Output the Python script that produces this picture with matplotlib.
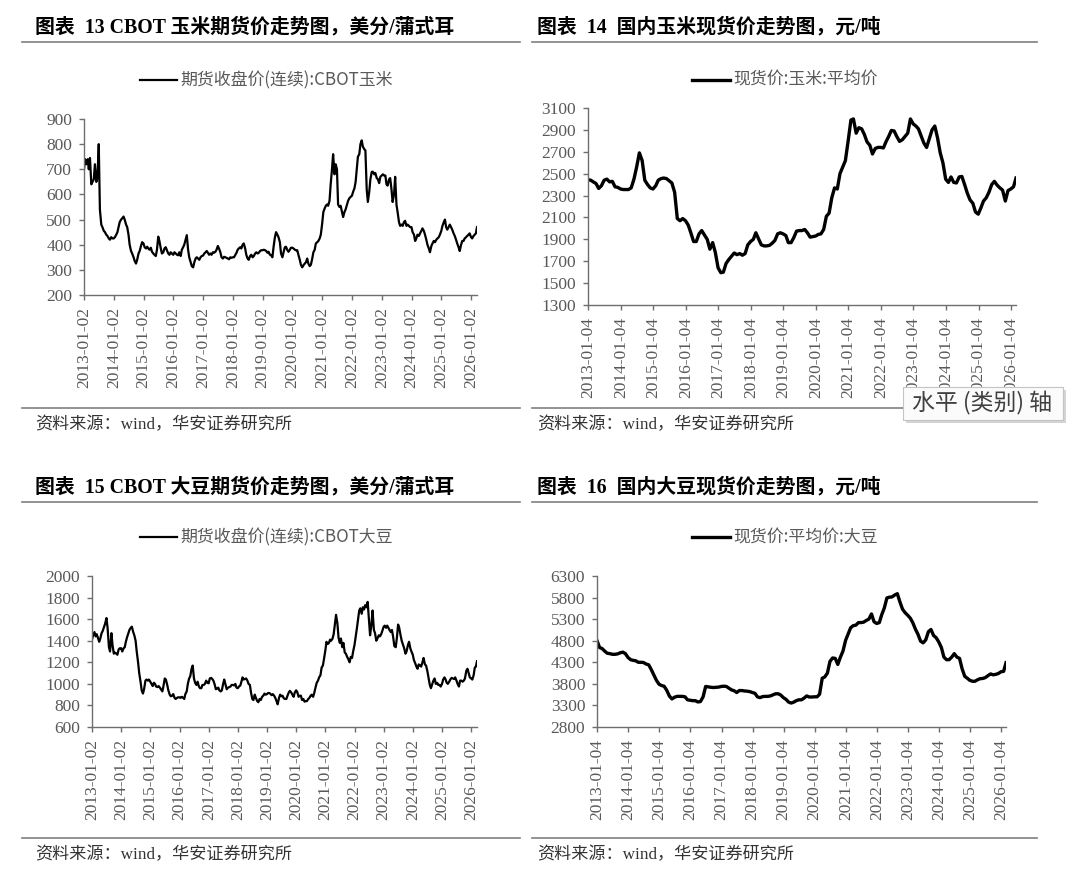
# %%
import matplotlib
matplotlib.use("Agg")
import matplotlib.pyplot as plt
import pandas as pd
from matplotlib.lines import Line2D
from matplotlib.patches import Rectangle

plt.rcParams["font.family"] = ["Liberation Serif", "Noto Sans CJK SC"]

W, H = 1080, 886
CJK_SANS = ["Noto Sans CJK SC", "DejaVu Sans"]

# %%
## 数据：期货为半月度，现货为月度
corn_fut = [
    700, 740, 720, 740, 700, 745, 640, 650, 660, 720, 650, 665, 800, 540, 480, 470, 455, 450, 440, 435, 425, 420, 430, 425,  # 2013
    425, 430, 440, 450, 470, 490, 500, 505, 512, 500, 480, 470, 440, 400, 375, 365, 350, 335, 325, 340, 365, 375, 395, 410,  # 2014
    405, 390, 385, 392, 385, 380, 388, 372, 365, 360, 355, 380, 432, 415, 385, 365, 370, 385, 390, 378, 365, 360, 370, 365,  # 2015
    360, 370, 365, 360, 358, 370, 355, 380, 390, 400, 420, 438, 380, 350, 330, 315, 310, 330, 345, 350, 345, 340, 350, 355,  # 2016
    357, 365, 370, 375, 368, 360, 365, 360, 370, 368, 372, 380, 395, 385, 370, 350, 345, 352, 350, 348, 345, 342, 350, 348,  # 2017
    350, 350, 360, 368, 380, 385, 390, 385, 400, 405, 385, 360, 345, 340, 355, 360, 350, 355, 365, 370, 365, 368, 375, 378,  # 2018
    378, 380, 378, 375, 368, 372, 360, 358, 350, 390, 430, 450, 440, 430, 410, 365, 350, 370, 390, 392, 378, 372, 380, 388,  # 2019
    388, 385, 380, 378, 378, 360, 340, 320, 310, 318, 325, 330, 345, 325, 315, 320, 345, 370, 380, 405, 410, 415, 425, 440,  # 2020
    485, 530, 545, 555, 560, 555, 575, 640, 700, 760, 680, 720, 700, 560, 550, 555, 530, 510, 530, 540, 560, 575, 585, 590,  # 2021
    595, 610, 625, 650, 700, 750, 760, 800, 815, 790, 780, 775, 620, 570, 610, 660, 690, 690, 680, 685, 665, 660, 645, 670,  # 2022
    675, 680, 675, 675, 640, 635, 660, 665, 620, 570, 600, 670, 560, 530, 490, 475, 480, 475, 490, 495, 475, 480, 475, 470,  # 2023
    470, 450, 440, 415, 425, 440, 435, 445, 455, 465, 455, 440, 420, 400, 385, 370, 395, 405, 415, 410, 420, 425, 430, 440,  # 2024
    455, 475, 490, 500, 470, 460, 470, 480, 470, 460, 445, 435, 420, 405, 390, 375, 400, 415, 415, 425, 430, 435, 440, 445,  # 2025
    430, 425, 435, 440, 445, 470,  # 2026
]

soy_fut = [
    1410, 1450, 1480, 1440, 1460, 1430, 1390, 1420, 1470, 1490, 1530, 1560, 1610, 1520, 1340, 1300, 1470, 1360, 1280, 1290, 1280, 1270, 1320, 1330,  # 2013
    1330, 1300, 1330, 1340, 1390, 1430, 1470, 1500, 1520, 1530, 1480, 1450, 1400, 1300, 1200, 1100, 1020, 940, 910, 950, 1030, 1040, 1030, 1040,  # 2014
    1020, 1000, 980, 1010, 1000, 975, 970, 980, 965, 950, 930, 980, 1050, 1040, 990, 940, 900, 885, 890, 905, 870, 860, 870, 875,  # 2015
    875, 870, 880, 870, 860, 905, 930, 1000, 1050, 1070, 1140, 1170, 1050, 1010, 990, 1020, 975, 960, 960, 990, 990, 1000, 1030, 1010,  # 2016
    1005, 1050, 1055, 1045, 1030, 1000, 950, 955, 965, 940, 930, 940, 1000, 1040, 990, 950, 965, 970, 975, 990, 990, 985, 1000, 965,  # 2017
    960, 975, 985, 1020, 1060, 1040, 1045, 1050, 1030, 1000, 990, 920, 860, 850, 900, 870, 840, 830, 860, 850, 880, 890, 910, 900,  # 2018
    905, 915, 915, 905, 895, 905, 890, 870, 840, 810, 870, 900, 885, 890, 865, 860, 860, 890, 920, 935, 920, 900, 880, 920,  # 2019
    940, 925, 880, 890, 890, 850, 860, 835, 840, 840, 860, 870, 890, 900, 880, 915, 970, 1010, 1030, 1060, 1080, 1150, 1170, 1230,  # 2020
    1310, 1390, 1370, 1380, 1410, 1400, 1420, 1460, 1560, 1640, 1560, 1430, 1380, 1420, 1340, 1380, 1290, 1280, 1250, 1230, 1200, 1250, 1240, 1300,  # 2021
    1360, 1430, 1520, 1600, 1680, 1700, 1650, 1710, 1690, 1730, 1710, 1760, 1600, 1450, 1550, 1680, 1500, 1470, 1400, 1420, 1450, 1440, 1460, 1490,  # 2022
    1530, 1540, 1520, 1540, 1520, 1500, 1480, 1500, 1430, 1350, 1340, 1420, 1550, 1520, 1450, 1400, 1360, 1330, 1280, 1300, 1360, 1390, 1330, 1300,  # 2023
    1270, 1220, 1190, 1160, 1140, 1180, 1170, 1160, 1200, 1240, 1180, 1170, 1120, 1060, 990, 960, 1000, 1030, 1050, 1000, 1010, 990, 990, 975,  # 2024
    1000, 1040, 1060, 1040, 1010, 1000, 1020, 1040, 1055, 1050, 1045, 1060, 1030, 1000, 975, 1030, 1030, 1020, 1030, 1050, 1120, 1140, 1100, 1060,  # 2025
    1050, 1040, 1080, 1150, 1160, 1210,  # 2026
]

corn_spot = [
    2445, 2440, 2425, 2410, 2365, 2390, 2440, 2450, 2425, 2430, 2380, 2375,  # 2013
    2360, 2355, 2355, 2355, 2370, 2450, 2560, 2690, 2620, 2440, 2400, 2370,  # 2014
    2360, 2390, 2440, 2455, 2460, 2455, 2435, 2415, 2330, 2090, 2070, 2090,  # 2015
    2070, 2030, 1960, 1880, 1880, 1950, 1980, 1940, 1900, 1810, 1870, 1780,  # 2016
    1640, 1595, 1600, 1680, 1715, 1745, 1775, 1760, 1770, 1755, 1770, 1850,  # 2017
    1880, 1900, 1960, 1905, 1850, 1840, 1840, 1845, 1865, 1890, 1950, 1960,  # 2018
    1950, 1935, 1870, 1870, 1915, 1975, 1980, 1980, 1990, 1960, 1920, 1925,  # 2019
    1930, 1945, 1950, 1990, 2110, 2140, 2280, 2370, 2360, 2500, 2560, 2620,  # 2020
    2800, 2990, 3000, 2870, 2920, 2910, 2860, 2790, 2760, 2680, 2730, 2740,  # 2021
    2740, 2735, 2790, 2840, 2895, 2890, 2840, 2795, 2810, 2840, 2870, 3000,  # 2022
    2955, 2935, 2910, 2845, 2780, 2740, 2820, 2900, 2935, 2830, 2690, 2600,  # 2023
    2450, 2420, 2470, 2420, 2415, 2470, 2475, 2400, 2320, 2260, 2230, 2150,  # 2024
    2130, 2190, 2250, 2280, 2330, 2400, 2430, 2395, 2370, 2350, 2250, 2345,  # 2025
    2360, 2380, 2460,  # 2026
]

soy_spot = [
    4800, 4640, 4620, 4560, 4510, 4500, 4485, 4485, 4495, 4520, 4535, 4500,  # 2013
    4410, 4360, 4345, 4335, 4300, 4300, 4295, 4260, 4240, 4130, 4000, 3880,  # 2014
    3790, 3760, 3745, 3650, 3520, 3450, 3490, 3510, 3510, 3510, 3500, 3430,  # 2015
    3420, 3410, 3410, 3380, 3390, 3500, 3740, 3730, 3720, 3715, 3720, 3725,  # 2016
    3740, 3745, 3740, 3700, 3660, 3640, 3600, 3645, 3645, 3635, 3630, 3620,  # 2017
    3600, 3580, 3500, 3480, 3505, 3510, 3510, 3520, 3545, 3570, 3570, 3540,  # 2018
    3480, 3440, 3380, 3355, 3375, 3410, 3430, 3430, 3470, 3520, 3495, 3495,  # 2019
    3500, 3500, 3560, 3930, 3960, 4050, 4320, 4400, 4390, 4250, 4420, 4560,  # 2020
    4810, 4960, 5100, 5150, 5160, 5220, 5220, 5230, 5270, 5300, 5420, 5240,  # 2021
    5200, 5220, 5400, 5560, 5790, 5810, 5815, 5860, 5890, 5700, 5530, 5450,  # 2022
    5390, 5320, 5220, 5070, 4950, 4790, 4750, 4820, 5010, 5060, 4920, 4870,  # 2023
    4770, 4640, 4420, 4360, 4360, 4420, 4500, 4420, 4390, 4150, 3975, 3930,  # 2024
    3880, 3860, 3860, 3895, 3920, 3925, 3945, 3990, 4030, 4010, 4020, 4040,  # 2025
    4080, 4090, 4290,  # 2026
]

fut_dates = pd.date_range("2013-01-01", periods=len(corn_fut), freq="SMS")
spot_dates = pd.date_range("2013-01-01", periods=len(corn_spot), freq="MS")
fut_ticks = pd.to_datetime([f"{y}-01-02" for y in range(2013, 2027)])
spot_ticks = pd.to_datetime([f"{y}-01-04" for y in range(2013, 2027)])

titles = [
    "图表  13 CBOT 玉米期货价走势图，美分/蒲式耳",
    "图表  14  国内玉米现货价走势图，元/吨",
    "图表  15 CBOT 大豆期货价走势图，美分/蒲式耳",
    "图表  16  国内大豆现货价走势图，元/吨",
]
labels = [
    "期货收盘价(连续):CBOT玉米",
    "现货价:玉米:平均价",
    "期货收盘价(连续):CBOT大豆",
    "现货价:平均价:大豆",
]
source = "资料来源：wind，华安证券研究所"


# %%
def fx(x):
    return x / W


def fy(y):
    return 1 - y / H


def hline(x0, x1, y, **kw):
    fig.add_artist(Line2D([fx(x0), fx(x1)], [fy(y), fy(y)], **kw))


panels = [
    # dates, values, ticks, y range, step, axes box (l, t, r, b), line width, column, row
    (fut_dates, corn_fut, fut_ticks, (200, 900), 100, (84, 119, 477, 295), 1.6, 0, 0),
    (spot_dates, corn_spot, spot_ticks, (1300, 3100), 200, (588, 108, 1016, 305), 2.4, 1, 0),
    (fut_dates, soy_fut, fut_ticks, (600, 2000), 200, (92, 576, 477, 727), 1.6, 0, 1),
    (spot_dates, soy_spot, spot_ticks, (2800, 6300), 500, (597, 576, 1006, 727), 2.4, 1, 1),
]

fig = plt.figure(figsize=(W / 100, H / 100), dpi=100)

for i, (dates, vals, ticks, (y0, y1), step, (l, t, r, b), lw, col, row) in enumerate(panels):
    ax = fig.add_axes([fx(l), fy(b), fx(r - l), (b - t) / H])
    ax.plot(dates, vals, color="black", lw=lw, solid_joinstyle="round")
    ax.set_xlim(dates[0], dates[-1])
    ax.set_ylim(y0, y1)
    ax.set_yticks(range(y0, y1 + 1, step))
    ax.set_xticks(ticks)
    ax.set_xticklabels([d.strftime("%Y-%m-%d") for d in ticks], rotation=90)
    for s in ["top", "right"]:
        ax.spines[s].set_visible(False)
    for s in ["left", "bottom"]:
        ax.spines[s].set_color("#6e6e6e")
        ax.spines[s].set_linewidth(1.0)
    ax.tick_params(direction="out", length=3.5, width=1.0, color="#6e6e6e",
                   labelcolor="#595959", labelsize=12.5, pad=5)

    bx = 35 if col == 0 else 537
    dy = 0 if row == 0 else 460
    rx0, rx1 = (22, 520) if col == 0 else (532, 1037)

    # 标题、分隔线
    fig.text(fx(bx), fy(27 + dy), titles[i], fontsize=14.3, weight="bold",
             va="center", ha="left")
    hline(rx0, rx1, 42 + dy, color="#7f7f7f", lw=1.2)

    # 图例
    ly = 80 + dy if row == 0 else 537
    lx0, lx1, tx = (140, 177, 180) if col == 0 else (692, 730, 733)
    hline(lx0, lx1, ly, color="black", lw=lw)
    fig.text(fx(tx), fy(ly), labels[i], family=CJK_SANS, fontsize=12.2,
             color="#595959", va="center", ha="left")

    # 资料来源
    fy_rule = 408 if row == 0 else 838
    hline(rx0, rx1, fy_rule, color="#7f7f7f", lw=1.2)
    fig.text(fx(bx), fy(fy_rule + 17), source, fontsize=12.3, color="#333333",
             va="center", ha="left")

# %%
## Excel 悬浮提示框
fig.add_artist(Rectangle((fx(906), fy(423)), fx(160), 33 / H, transform=fig.transFigure,
                         fc="#d4d4d4", ec="none", zorder=5))
fig.add_artist(Rectangle((fx(903), fy(420)), fx(160), 33 / H, transform=fig.transFigure,
                         fc="#fbfbfb", ec="#c4c4c4", lw=0.8, zorder=6))
fig.text(fx(982), fy(403), "水平 (类别) 轴", family=CJK_SANS, fontsize=16.5,
         color="#404040", ha="center", va="center", zorder=7)

fig.savefig("out.png", dpi=100)
